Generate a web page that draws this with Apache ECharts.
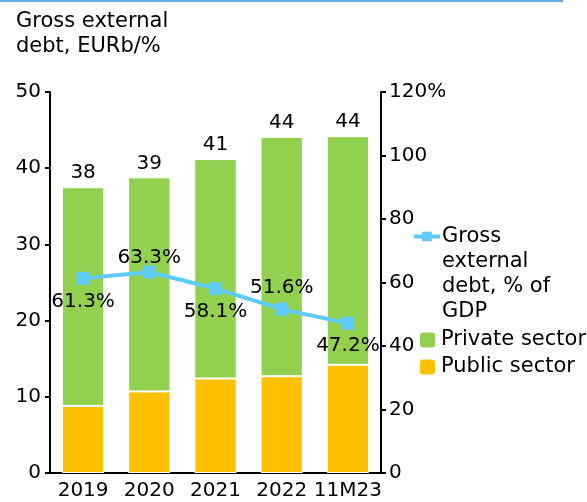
<!DOCTYPE html>
<html>
<head>
<meta charset="utf-8">
<script src="https://cdn.jsdelivr.net/npm/echarts@6/dist/echarts.min.js"></script>
<style>
  html, body { margin: 0; padding: 0; background: #fff; }
  #chart { width: 587px; height: 502px; }
</style>
</head>
<body>
<div id="chart"></div>
<script>
  // data
  const years = ['2019', '2020', '2021', '2022', '11M23']
  const publicSector = [8.8, 10.7, 12.4, 12.7, 14.2]
  const privateSector = [28.7, 28.1, 28.8, 31.4, 30.0]
  const debtToGdp = [61.3, 63.3, 58.1, 51.6, 47.2]

  const FONT = 'DejaVu Sans'
  const FS = 20
  // label gap from each line point (alternating below / above)
  const labelGap = [6.5, -2.5, 6.5, 5, 6.5]
  const chart = echarts.init(document.getElementById('chart'))

  const option = {
    animation: false,
    textStyle: { fontFamily: FONT },
    title: {
      text: 'Gross external\ndebt, EURb/%',
      left: 11,
      top: 4,
      textStyle: { fontFamily: FONT, fontSize: 21, fontWeight: 'normal', color: '#000', lineHeight: 25 }
    },
    graphic: [{
      type: 'line',
      shape: { x1: 0, y1: 1, x2: 563, y2: 1 },
      style: { stroke: '#6aaedb', lineWidth: 2 }
    }],
    legend: [
      {
        data: ['Gross external debt, % of GDP'],
        left: 407,
        top: 144,
        orient: 'vertical',
        itemWidth: 26,
        itemHeight: 12,
        lineStyle: { width: 4 },
        // leading blank lines keep the icon level with the first line
        formatter: () => '\n\n\nGross\nexternal\ndebt, % of\nGDP',
        textStyle: { fontFamily: FONT, fontSize: 21, color: '#000', lineHeight: 25, padding: [0, 0, 0, -3] }
      },
      {
        data: ['Private sector', 'Public sector'],
        left: 413,
        top: 323,
        orient: 'vertical',
        itemWidth: 17,
        itemHeight: 17,
        itemGap: 3,
        textStyle: { fontFamily: FONT, fontSize: 21, color: '#000', lineHeight: 24 }
      }
    ],
    grid: { left: 50, right: 206, top: 92, bottom: 29 },
    xAxis: {
      type: 'category',
      data: years,
      axisLine: { lineStyle: { color: '#000', width: 2 } },
      axisTick: { show: false },
      axisLabel: { fontFamily: FONT, fontSize: FS, color: '#000', margin: 8, interval: 0 }
    },
    yAxis: [
      {
        type: 'value',
        min: 0, max: 50, interval: 10,
        axisLine: { show: true, lineStyle: { color: '#000', width: 2 } },
        axisTick: { show: true, length: 5, lineStyle: { color: '#000', width: 2 } },
        splitLine: { show: false },
        axisLabel: { fontFamily: FONT, fontSize: FS, color: '#000', margin: 9 }
      },
      {
        type: 'value',
        min: 0, max: 120, interval: 20,
        axisLine: { show: true, lineStyle: { color: '#000', width: 2 } },
        axisTick: { show: true, length: 5, lineStyle: { color: '#000', width: 2 } },
        splitLine: { show: false },
        axisLabel: {
          fontFamily: FONT, fontSize: FS, color: '#000', margin: 8,
          formatter: v => v === 120 ? '120%' : String(v)
        }
      }
    ],
    series: [
      {
        name: 'Public sector',
        type: 'bar',
        stack: 'debt',
        barWidth: '64%',
        data: publicSector,
        itemStyle: { color: '#ffc000', borderColor: '#fff', borderWidth: 1 }
      },
      {
        name: 'Private sector',
        type: 'bar',
        stack: 'debt',
        data: privateSector,
        itemStyle: { color: '#92d050', borderColor: '#fff', borderWidth: 1 },
        label: {
          show: true,
          position: 'top',
          distance: 4,
          fontFamily: FONT, fontSize: FS, color: '#000',
          formatter: p => Math.round(publicSector[p.dataIndex] + privateSector[p.dataIndex])
        }
      },
      {
        name: 'Gross external debt, % of GDP',
        type: 'line',
        yAxisIndex: 1,
        data: debtToGdp.map((v, i) => ({
          value: v,
          label: { position: i % 2 ? 'top' : 'bottom', distance: labelGap[i] }
        })),
        symbol: 'rect',
        symbolSize: 13,
        lineStyle: { color: '#5ecbfa', width: 4 },
        itemStyle: { color: '#5ecbfa' },
        label: {
          show: true,
          fontFamily: FONT, fontSize: FS, color: '#000',
          formatter: p => p.value.toFixed(1) + '%'
        },
        z: 5
      }
    ]
  }

  chart.setOption(option)
</script>
</body>
</html>
